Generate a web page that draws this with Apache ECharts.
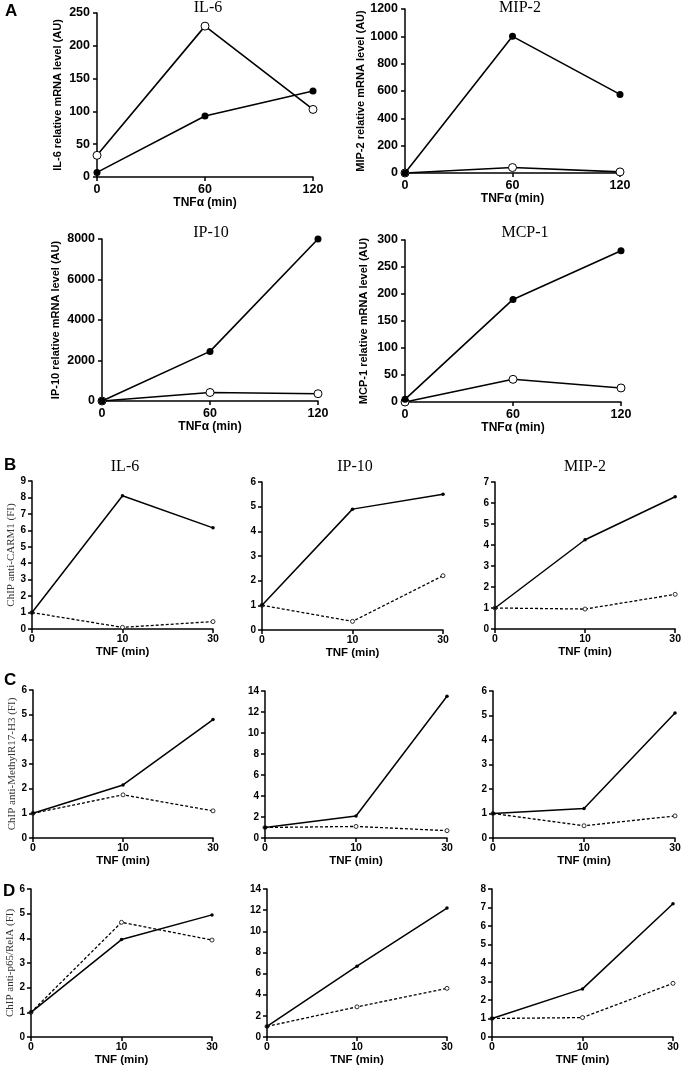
<!DOCTYPE html>
<html>
<head>
<meta charset="utf-8">
<script src="https://cdn.jsdelivr.net/npm/echarts@6/dist/echarts.min.js"></script>
<style>
html,body{margin:0;padding:0;background:#fff;}
#main{width:684px;height:1083px;}
</style>
</head>
<body>
<div id="main"></div>
<script>
// A: mRNA, time in min
var aTime = [0, 60, 120];
var il6Filled = [7, 93, 131];
var il6Open = [33, 230, 103];
var mip2Filled = [0, 1000, 575];
var mip2Open = [0, 40, 8];
var ip10Filled = [0, 2450, 8000];
var ip10Open = [0, 420, 360];
var mcp1Filled = [5, 190, 280];
var mcp1Open = [0, 42, 26];

// B-D: ChIP, time in min (category)
var chipTime = ['0', '10', '30'];
// B anti-CARM1
var carmIl6 = [1, 8.1, 6.15];
var carmIl6Ctl = [1, 0.1, 0.45];
var carmIp10 = [1, 4.9, 5.5];
var carmIp10Ctl = [1, 0.35, 2.2];
var carmMip2 = [1, 4.25, 6.3];
var carmMip2Ctl = [1, 0.95, 1.65];
// C anti-MethylR17-H3
var methIl6 = [1, 2.15, 4.8];
var methIl6Ctl = [1, 1.75, 1.1];
var methIp10 = [1, 2.1, 13.5];
var methIp10Ctl = [1, 1.1, 0.7];
var methMip2 = [1, 1.2, 5.1];
var methMip2Ctl = [1, 0.5, 0.9];
// D anti-p65/RelA
var relaIl6 = [1, 3.95, 4.95];
var relaIl6Ctl = [1, 4.65, 3.93];
var relaIp10 = [1, 6.7, 12.2];
var relaIp10Ctl = [1, 2.85, 4.6];
var relaMip2 = [1, 2.6, 7.2];
var relaMip2Ctl = [1, 1.05, 2.9];

var grids = [], xAxes = [], yAxes = [], series = [], titles = [];
var sans = 'Liberation Sans';
var serif = 'Liberation Serif';

function axisBase(fontSize, margin) {
    return {
        axisLine: {show: true, onZero: false, lineStyle: {color: '#000', width: 1.5}},
        axisTick: {show: true, inside: false, length: 4, lineStyle: {color: '#000', width: 1.5}},
        splitLine: {show: false},
        axisLabel: {color: '#000', fontWeight: 'bold', fontFamily: sans, fontSize: fontSize, margin: margin,
            formatter: function (v) { return String(v); }}
    };
}

function addGrid(box, xAxis, yAxis) {
    var i = grids.length;
    grids.push({left: box[0], top: box[1], width: box[2], height: box[3]});
    xAxis.gridIndex = i;
    yAxis.gridIndex = i;
    xAxes.push(xAxis);
    yAxes.push(yAxis);
    return i;
}

function pairs(xs, ys) {
    var out = [];
    for (var k = 0; k < xs.length; k++) out.push([xs[k], ys[k]]);
    return out;
}

// 画 A 面板的一个图
function panelA(box, yMax, yStep, yName, nameGap, filled, open) {
    var x = axisBase(12.5, 6);
    x.type = 'value'; x.min = 0; x.max = 120; x.interval = 60;
    x.name = 'TNF\u03b1 (min)'; x.nameLocation = 'middle'; x.nameGap = 17;
    x.nameTextStyle = {color: '#000', fontWeight: 'bold', fontFamily: sans, fontSize: 12, verticalAlign: 'top'};
    var y = axisBase(12.5, 7);
    y.type = 'value'; y.min = 0; y.max = yMax; y.interval = yStep;
    y.name = yName; y.nameLocation = 'middle'; y.nameRotate = 90; y.nameGap = nameGap;
    y.nameTextStyle = {color: '#000', fontWeight: 'bold', fontFamily: sans, fontSize: 11};
    var i = addGrid(box, x, y);
    series.push({type: 'line', xAxisIndex: i, yAxisIndex: i, data: pairs(aTime, open), clip: false,
        symbol: 'circle', symbolSize: 8, z: 3,
        lineStyle: {color: '#000', width: 1.6},
        itemStyle: {color: '#fff', borderColor: '#000', borderWidth: 1}});
    series.push({type: 'line', xAxisIndex: i, yAxisIndex: i, data: pairs(aTime, filled), clip: false,
        symbol: 'circle', symbolSize: 7, z: 4,
        lineStyle: {color: '#000', width: 1.6},
        itemStyle: {color: '#000'}});
}

// 画 B-D 面板的一个图
function panelChip(box, yMax, yStep, yName, treated, control) {
    var x = axisBase(10.5, 5);
    x.type = 'category'; x.data = chipTime; x.boundaryGap = false;
    x.name = 'TNF (min)'; x.nameLocation = 'middle'; x.nameGap = 17;
    x.nameTextStyle = {color: '#000', fontWeight: 'bold', fontFamily: sans, fontSize: 11.5, verticalAlign: 'top'};
    var y = axisBase(10, 6);
    y.type = 'value'; y.min = 0; y.max = yMax; y.interval = yStep;
    if (yName) {
        y.name = yName; y.nameLocation = 'middle'; y.nameRotate = 90; y.nameGap = 15;
        y.nameTextStyle = {color: '#333', fontFamily: serif, fontSize: 11};
    }
    var i = addGrid(box, x, y);
    series.push({type: 'line', xAxisIndex: i, yAxisIndex: i, data: control, clip: false,
        symbol: 'circle', symbolSize: 4, z: 3,
        lineStyle: {color: '#000', width: 1.3, type: [3, 2]},
        itemStyle: {color: '#fff', borderColor: '#000', borderWidth: 0.8}});
    series.push({type: 'line', xAxisIndex: i, yAxisIndex: i, data: treated, clip: false,
        symbol: 'circle', symbolSize: 3.5, z: 4,
        lineStyle: {color: '#000', width: 1.5},
        itemStyle: {color: '#000'}});
}

function addTitle(text, cx, top) {
    titles.push({text: text, left: cx, top: top, textAlign: 'center', padding: 0,
        textStyle: {color: '#000', fontFamily: serif, fontWeight: 'normal', fontSize: 16}});
}

panelA([97, 13, 216, 164], 250, 50, 'IL-6 relative mRNA level (AU)', 34, il6Filled, il6Open);
panelA([405, 9, 215, 164], 1200, 200, 'MIP-2 relative mRNA level (AU)', 37, mip2Filled, mip2Open);
panelA([102, 239, 216, 162], 8000, 2000, 'IP-10 relative mRNA level (AU)', 41, ip10Filled, ip10Open);
panelA([405, 240, 216, 162], 300, 50, 'MCP-1 relative mRNA level (AU)', 36, mcp1Filled, mcp1Open);

panelChip([32, 481, 181, 148], 9, 1, 'ChIP anti-CARM1 (FI)', carmIl6, carmIl6Ctl);
panelChip([262, 482, 181, 148], 6, 1, '', carmIp10, carmIp10Ctl);
panelChip([495, 482, 182, 147], 7, 1, '', carmMip2, carmMip2Ctl);

panelChip([33, 690, 180, 148], 6, 1, 'ChIP anti-MethylR17-H3 (FI)', methIl6, methIl6Ctl);
panelChip([265, 691, 182, 147], 14, 2, '', methIp10, methIp10Ctl);
panelChip([493, 691, 182, 147], 6, 1, '', methMip2, methMip2Ctl);

panelChip([31, 889, 181, 148], 6, 1, 'ChIP anti-p65/RelA (FI)', relaIl6, relaIl6Ctl);
panelChip([267, 889, 180, 148], 14, 2, '', relaIp10, relaIp10Ctl);
panelChip([492, 889, 181, 148], 8, 1, '', relaMip2, relaMip2Ctl);

addTitle('IL-6', 208, 0);
addTitle('MIP-2', 520, 0);
addTitle('IP-10', 211, 225);
addTitle('MCP-1', 525, 225);
addTitle('IL-6', 125, 459);
addTitle('IP-10', 355, 459);
addTitle('MIP-2', 585, 459);

function letter(t, x, y) {
    return {type: 'text', left: x, top: y,
        style: {text: t, fill: '#000', font: 'bold 17px "Liberation Sans"'}};
}

var myChart = echarts.init(document.getElementById('main'));
myChart.setOption({
    animation: false,
    backgroundColor: '#fff',
    title: titles,
    grid: grids,
    xAxis: xAxes,
    yAxis: yAxes,
    series: series,
    graphic: [letter('A', 5, 3), letter('B', 4, 457), letter('C', 4, 672), letter('D', 3, 883)]
});
</script>
</body>
</html>
